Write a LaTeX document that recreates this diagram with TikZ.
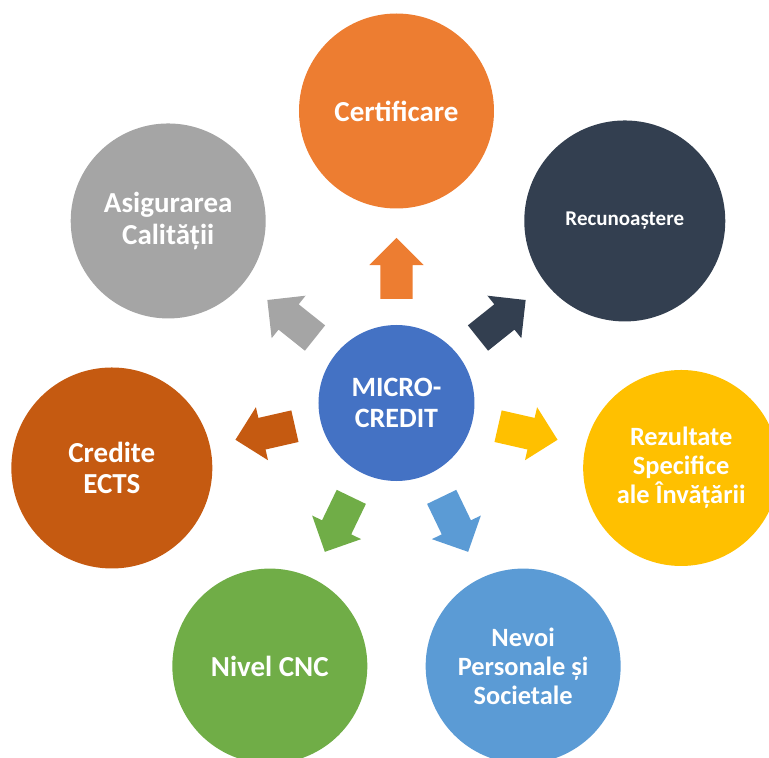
\documentclass[tikz,border=0pt]{standalone}
\usepackage{fontspec}
\setmainfont{Carlito}
\usetikzlibrary{shapes.arrows}
\definecolor{ce}{HTML}{4472C4}
\definecolor{or}{HTML}{ED7D31}
\definecolor{da}{HTML}{333F50}
\definecolor{ye}{HTML}{FFC000}
\definecolor{bl}{HTML}{5B9BD5}
\definecolor{gr}{HTML}{70AD47}
\definecolor{br}{HTML}{C55A11}
\definecolor{gy}{HTML}{A5A5A5}
\tikzset{
  bubble/.style={circle, draw=none, fill=#1, text=white, inner sep=0pt, align=center,
    font=\bfseries\fontsize{29}{31.5}\selectfont},
  blockarrow/.style={single arrow, draw=none, fill=#1, inner xsep=0pt, inner ysep=16pt,
    minimum height=61pt, minimum width=54pt, single arrow head extend=11pt, anchor=tail},
}

\begin{document}
\begin{tikzpicture}[x=1pt, y=1pt]
  \useasboundingbox (-396.5,-355) rectangle (372.5,403);

  \node[bubble=ce, minimum size=156pt, font=\bfseries\fontsize{28}{30.7}\selectfont] (micro) at (0,0) {MICRO-\\CREDIT};

  \node[bubble=or, minimum size=195pt] (cert) at (90:292) {Certificare};
  \node[bubble=da, minimum size=201pt, font=\bfseries\fontsize{21}{23}\selectfont] (recu) at (38.57:292) {Recunoaștere};
  \node[bubble=ye, minimum size=196pt, font=\bfseries\fontsize{26.4}{29}\selectfont] (rezu) at (-12.86:292) {Rezultate\\Specifice\\ale Învățării};
  \node[bubble=bl, minimum size=195pt, font=\bfseries\fontsize{26.4}{29}\selectfont] (nevo) at (-64.29:292) {Nevoi\\Personale și\\Societale};
  \node[bubble=gr, minimum size=195pt] (nive) at (-115.71:292) {Nivel CNC};
  \node[bubble=br, minimum size=201pt] (cred) at (-167.14:292) {Credite\\ECTS};
  \node[bubble=gy, minimum size=195pt] (asig) at (141.43:292) {Asigurarea\\Calității};

  \node[blockarrow=or, rotate=90] (acert) at (90:104) {};
  \node[blockarrow=da, rotate=38.57] (arecu) at (38.57:104) {};
  \node[blockarrow=ye, rotate=-12.86] (arezu) at (-12.86:104) {};
  \node[blockarrow=bl, rotate=-64.29] (anevo) at (-64.29:104) {};
  \node[blockarrow=gr, rotate=-115.71] (anive) at (-115.71:104) {};
  \node[blockarrow=br, rotate=-167.14] (acred) at (-167.14:104) {};
  \node[blockarrow=gy, rotate=141.43] (aasig) at (141.43:104) {};
\end{tikzpicture}
\end{document}
